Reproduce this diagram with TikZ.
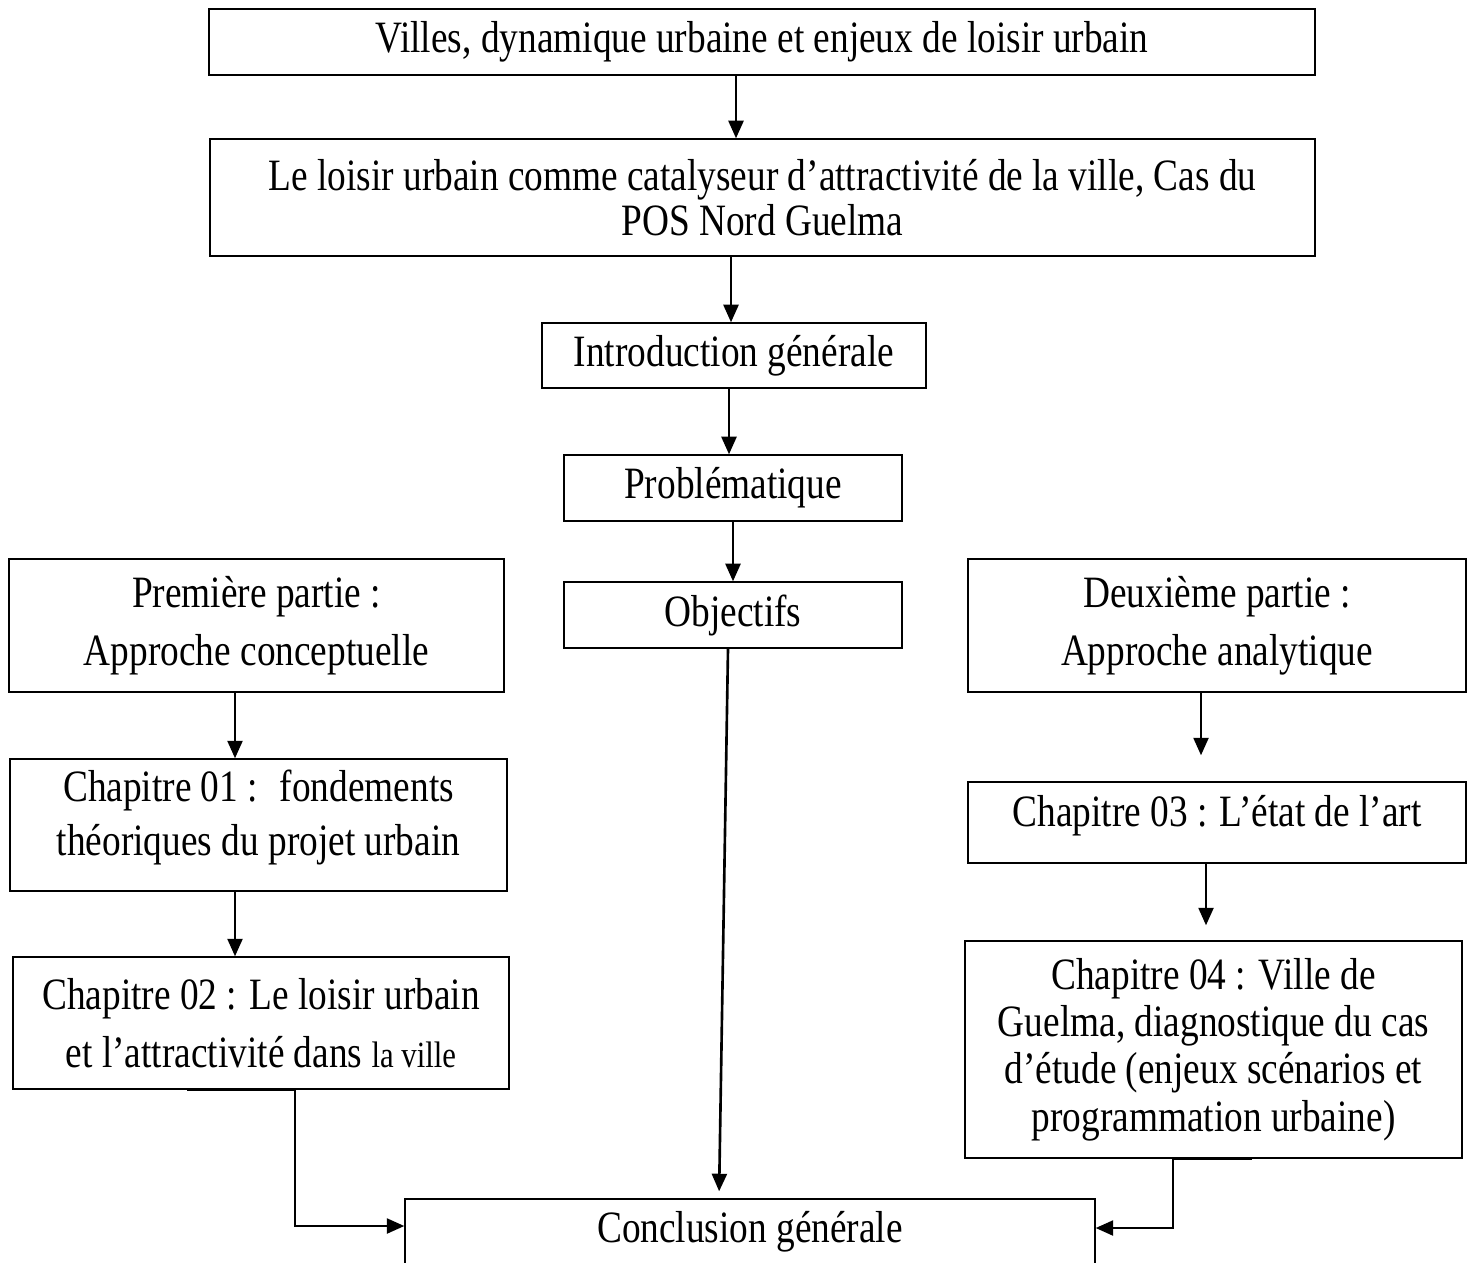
\documentclass[tikz,border=0pt]{standalone}
\usepackage{fontspec}
\setmainfont{Liberation Serif}[FakeStretch=0.833]
\usetikzlibrary{arrows.meta, calc, positioning}
\tikzset{
  bx/.style={draw, line width=0.8pt, align=center, inner sep=0pt,
             font=\fontsize{25.5}{27}\selectfont},
  lsp/.style={font=\fontsize{25.5}{#1}\selectfont},
  myarr/.style={-{Triangle[length=10pt, width=8.5pt]}, line width=1.5pt},
}

\begin{document}
\begin{tikzpicture}[x=0.02cm, y=-0.02cm]
\useasboundingbox (0,0) rectangle (1471,1262);

%% ============================================================
%% CENTRAL COLUMN
%% ============================================================
\node[bx, minimum width=22.12cm, minimum height=1.32cm] (villes) at (762,42)
  {Villes, dynamique urbaine et enjeux de loisir urbain};

\node[bx, lsp=26pt, minimum width=22.10cm, minimum height=2.34cm] (theme) at (762.5,197.5)
  {Le loisir urbain comme catalyseur d’attractivité de la ville, Cas du\\
   POS Nord Guelma};

\node[bx, minimum width=7.68cm, minimum height=1.30cm] (intro) at (734,355.5)
  {Introduction générale};

\node[bx, minimum width=6.76cm, minimum height=1.32cm] (probl) at (733,488)
  {Problématique};

\node[bx, minimum width=6.76cm, minimum height=1.32cm] (obj) at (733,615)
  {Objectifs};

\node[bx, minimum width=13.80cm, minimum height=1.32cm] (concl) at (750,1232)
  {Conclusion générale};

%% ============================================================
%% LEFT COLUMN  (first part)
%% ============================================================
\node[bx, lsp=33pt, minimum width=9.90cm, minimum height=2.66cm] (part1) at (256.5,625.5)
  {Première partie :\\Approche conceptuelle};

\node[bx, lsp=31pt, text depth=14pt, minimum width=9.94cm, minimum height=2.64cm] (ch01) at (258.5,825)
  {Chapitre 01 :~ fondements\\théoriques du projet urbain};

\node[bx, lsp=33pt, minimum width=9.92cm, minimum height=2.64cm] (ch02) at (261,1023)
  {Chapitre 02 : Le loisir urbain\\
   et l’attractivité dans {\fontsize{21}{27}\selectfont la ville}};

%% ============================================================
%% RIGHT COLUMN  (second part)
%% ============================================================
\node[bx, lsp=33pt, minimum width=9.96cm, minimum height=2.66cm] (part2) at (1217,625.5)
  {Deuxième partie :\\Approche analytique};

\node[bx, text depth=13.5pt, minimum width=9.96cm, minimum height=1.62cm] (ch03) at (1217,822.5)
  {Chapitre 03 : L’état de l’art};

\node[bx, lsp=27pt, minimum width=9.94cm, minimum height=4.34cm] (ch04) at (1213.5,1049.5)
  {Chapitre 04 : Ville de\\Guelma, diagnostique du cas\\
   d’étude (enjeux scénarios et\\programmation urbaine)};

%% ============================================================
%% ARROWS
%% ============================================================
\draw[myarr] ([xshift=-0.52cm]villes.south) -- ([xshift=-0.52cm]villes.south |- theme.north);
\draw[myarr] ([xshift=-0.63cm]theme.south) -- ([xshift=-0.63cm]theme.south |- intro.north);
\draw[myarr] ([xshift=-0.1cm]intro.south) -- ([xshift=-0.1cm]intro.south |- probl.north);
\draw[myarr] (probl.south) -- (obj.north);
\draw[myarr, shorten >=0.14cm] ([xshift=-0.1cm]obj.south) -- ([xshift=-0.62cm]concl.north);

% left column
\draw[myarr] ([xshift=-0.43cm]part1.south) -- ([xshift=-0.43cm]part1.south |- ch01.north);
\draw[myarr] ([xshift=-0.47cm]ch01.south) -- ([xshift=-0.47cm]ch01.south |- ch02.north);
\draw[myarr] ([xshift=-1.48cm]ch02.south) -- ([xshift=0.68cm]ch02.south)
  |- ([yshift=0.12cm]concl.west);

% right column
\draw[myarr, shorten >=0.52cm] ([xshift=-0.32cm]part2.south) -- ([xshift=-0.32cm]part2.south |- ch03.north);
\draw[myarr, shorten >=0.3cm] ([xshift=-0.22cm]ch03.south) -- ([xshift=-0.22cm]ch03.south |- ch04.north);
\draw[myarr] ([xshift=0.77cm]ch04.south) -- ([xshift=-0.81cm]ch04.south)
  |- ([yshift=0.08cm]concl.east);

\end{tikzpicture}
\end{document}
